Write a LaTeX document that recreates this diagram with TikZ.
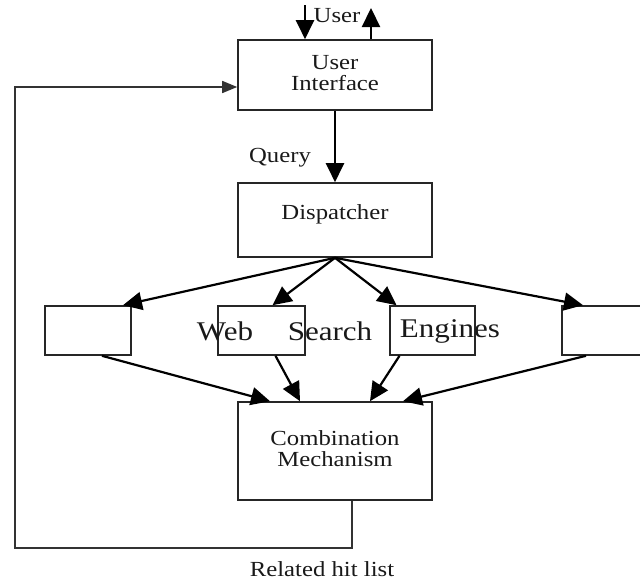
\documentclass[tikz,border=0pt]{standalone}
\usepackage{fontspec}
\setmainfont{Liberation Serif}[FakeStretch=1.15]
\usetikzlibrary{arrows.meta}
\begin{document}
\begin{tikzpicture}[x=1pt,y=-1pt,
  box/.style={draw=black!85, line width=1.6pt, minimum width=#1, inner sep=0pt},
  lbl/.style={text=black!90, font=\fontsize{21.5}{21}\selectfont, align=center},
  big/.style={text=black!90, font=\fontsize{27}{28}\selectfont, inner sep=0pt},
  arr/.style={draw=black, line width=2.2pt, -{Triangle[length=19pt,width=18pt]}},
  fb/.style={draw=black!80, line width=1.6pt, -{Triangle[length=15pt,width=12pt]}}]
\useasboundingbox (0,0) rectangle (640,581);
\clip (0,0) rectangle (640,581);

% main column
\node[box=194pt, minimum height=70pt] (ui) at (335,75) {};
\node[lbl, text width=194pt] (uit) at (335,73) {User\\Interface};
\node[box=194pt, minimum height=74pt] (dsp) at (335,220) {};
\node[lbl] (dspt) at (335,214) {Dispatcher};
\node[box=194pt, minimum height=98pt] (comb) at (335,451) {};
\node[lbl, text width=194pt] (combt) at (335,449) {Combination\\Mechanism};

% search engine row
\node[box=86pt, minimum height=49pt] (e1) at (88,330.5) {};
\node[box=87pt, minimum height=49pt] (e2) at (261.5,330.5) {};
\node[box=85pt, minimum height=49pt] (e3) at (432.5,330.5) {};
\node[box=88pt, minimum height=49pt] (e4) at (606,330.5) {};
\node[big] (wweb) at (225,331) {Web};
\node[big] (wsearch) at (330,331) {Search};
\node[big] (wengines) at (450,331) {Engines};

% user interaction
\node[lbl] (user) at (337,16) {User};
\coordinate (uin) at (305,5);
\coordinate (uout) at (371,8);
\draw[arr] (uin) -- (uin |- ui.north);
\draw[arr] (uout |- ui.north) -- (uout);

% query
\node[lbl] (query) at (280,158) {Query};
\draw[arr] (ui.south) -- (dsp.north);

% dispatching
\draw[arr] (dsp.south) -- ([xshift=35pt]e1.north);
\draw[arr] (dsp.south) -- ([xshift=11pt]e2.north);
\draw[arr] (dsp.south) -- ([xshift=-36pt]e3.north);
\draw[arr] (dsp.south) -- ([xshift=-23pt]e4.north);

% collecting results
\draw[arr] ([xshift=14pt]e1.south) -- ([xshift=-65pt]comb.north);
\draw[arr] ([xshift=14pt]e2.south) -- ([xshift=-35pt]comb.north);
\draw[arr] ([xshift=-33pt]e3.south) -- ([xshift=35pt]comb.north);
\draw[arr] ([xshift=-20pt]e4.south) -- ([xshift=68pt]comb.north);

% feedback of the hit list
\coordinate (fbl) at (15,548);
\draw[fb] ([xshift=17pt]comb.south) |- (fbl) |- ([yshift=-12pt]ui.west);
\node[lbl] (hits) at (322,569) {Related hit list};
\end{tikzpicture}
\end{document}
